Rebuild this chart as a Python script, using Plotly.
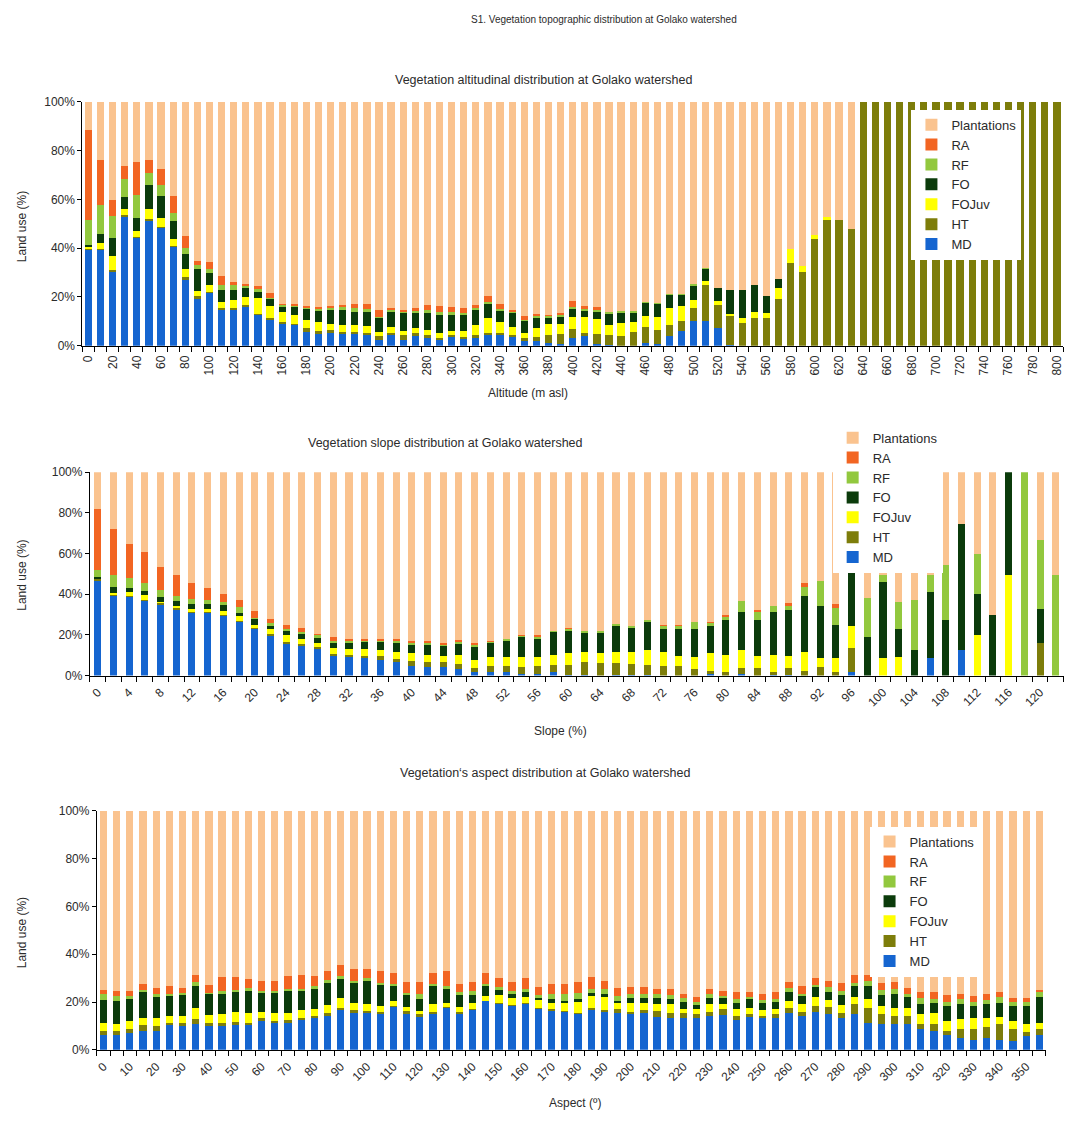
import plotly.graph_objects as go

# ---------------- DATA ----------------
series_names = ["MD", "HT", "FOJuv", "FO", "RF", "RA", "Plantations"]
series_colors = ["#1565D0", "#7D7D0A", "#FFFF00", "#0B3B0B", "#92C83E", "#F26522", "#FAC38F"]

# Altitude chart (m asl)
alt_x = list(range(0, 801, 10))
alt_MD = [39.5, 39.5, 30.5, 53.2, 44.4, 51.5, 48.5, 40.7, 27.4, 19.6, 21.8, 14.6, 14.6, 15.7, 12.8, 10.9, 9.1, 8.8, 5.5, 4.7,
          5.4, 5.1, 5.1, 4.5, 2.4, 4.5, 2.4, 3.8, 3.1, 2.2, 3.4, 2.8, 3.1, 4.5, 4.5, 3.4, 2.0, 2.0, 1.0, 0.7,
          3.1, 3.8, 0.7, 0.4, 0, 0, 1.1, 0.7, 3.8, 6.1, 10.1, 10.1, 7.4, 0.4, 0, 0, 0, 0, 0, 0,
          0, 0, 0, 0, 0, 0, 0, 0, 0, 0, 0, 0, 0, 0, 0, 0, 0, 0, 0, 0, 0]
alt_HT = [0.5, 0.3, 0.5, 0.3, 0.3, 0.3, 0.3, 0.2, 0.8, 0.8, 0.3, 0.9, 0.9, 0.9, 0.2, 0.5, 0.5, 0.3, 1.6, 1.4,
          1.1, 0.7, 0.7, 0.7, 1.4, 0.7, 1.8, 1.4, 1.1, 0.9, 1.1, 0.9, 1.4, 0.9, 0.7, 1.1, 1.1, 1.4, 3.5, 4.1,
          3.6, 1.4, 4.1, 3.8, 3.8, 5.5, 6.4, 5.8, 4.7, 4.1, 5.4, 14.6, 9.5, 12.2, 9.2, 11.5, 11.5, 19.3, 33.9, 30.4,
          43.6, 51.4, 51.4, 47.7, 100, 100, 100, 100, 100, 100, 100, 100, 100, 100, 100, 100, 100, 100, 100, 100, 100]
alt_FOJuv = [0.3, 2.2, 5.8, 2.6, 2.3, 4.3, 3.6, 3.0, 3.1, 1.9, 2.7, 2.4, 3.1, 3.4, 6.4, 4.9, 4.3, 3.5, 3.4, 3.5,
             2.3, 2.7, 2.7, 2.7, 1.8, 2.3, 1.9, 2.0, 2.3, 2.0, 1.6, 2.3, 3.8, 6.1, 4.5, 3.0, 2.3, 3.8, 4.3, 4.1,
             5.1, 6.4, 6.2, 4.3, 5.4, 4.1, 4.5, 5.4, 6.8, 6.2, 3.1, 2.0, 1.4, 0.5, 2.3, 2.4, 1.8, 4.5, 5.7, 2.4,
             1.8, 1.3, 0, 0, 0, 0, 0, 0, 0, 0, 0, 0, 0, 0, 0, 0, 0, 0, 0, 0, 0]
alt_FO = [1.2, 3.9, 7.2, 4.9, 5.4, 9.6, 9.1, 7.4, 6.5, 9.2, 5.0, 5.0, 4.3, 3.6, 2.7, 3.0, 2.4, 3.4, 4.7, 5.0,
          5.8, 6.1, 5.4, 5.8, 5.9, 6.5, 7.2, 6.1, 7.4, 7.7, 6.8, 6.5, 6.8, 5.8, 4.7, 5.8, 4.9, 4.3, 3.0, 2.7,
          3.1, 3.1, 3.0, 4.7, 4.7, 4.3, 5.7, 5.4, 5.7, 4.6, 6.1, 5.1, 5.4, 9.9, 11.5, 10.8, 7.2, 3.4, 0, 0,
          0, 0, 0, 0, 0, 0, 0, 0, 0, 0, 0, 0, 0, 0, 0, 0, 0, 0, 0, 0, 0]
alt_RF = [10.0, 11.9, 9.3, 7.3, 9.5, 5.0, 4.2, 3.1, 2.3, 1.6, 1.7, 2.0, 1.8, 1.1, 1.6, 0.4, 0.5, 0.6, 0.7, 0.7,
          1.1, 1.4, 1.4, 1.4, 0.4, 0.9, 0.9, 1.4, 0.7, 1.1, 0.8, 1.1, 0.7, 0.7, 0.5, 0.9, 0.3, 0.8, 0.7, 1.4,
          1.0, 0.7, 0.7, 0.7, 0.3, 0.3, 0.4, 0.3, 0.4, 0.3, 0.7, 0.2, 0, 0, 0, 0, 0, 0, 0, 0,
          0, 0, 0, 0, 0, 0, 0, 0, 0, 0, 0, 0, 0, 0, 0, 0, 0, 0, 0, 0, 0]
alt_RA = [37.0, 18.2, 6.5, 5.4, 13.5, 5.4, 6.8, 7.0, 5.0, 1.8, 3.0, 3.8, 1.3, 0.7, 0.6, 2.0, 0.4, 0.4, 0.4, 0.4,
          0.5, 0.9, 2.0, 1.9, 2.7, 0.4, 0.4, 0.7, 2.3, 2.4, 2.0, 1.9, 0.7, 2.4, 2.4, 0.4, 1.4, 0.9, 0.3, 0.3,
          2.3, 0.7, 1.3, 0, 0, 0, 0, 0, 0, 0, 0, 0, 0, 0, 0, 0, 0, 0, 0, 0,
          0, 0, 0, 0, 0, 0, 0, 0, 0, 0, 0, 0, 0, 0, 0, 0, 0, 0, 0, 0, 0]
alt_Plantations = [11.5, 24.0, 40.2, 26.3, 24.6, 23.9, 27.5, 38.6, 54.9, 65.1, 65.5, 71.3, 74.0, 74.6, 75.7, 78.3, 82.8, 83.0, 83.7, 84.3,
                   83.8, 83.1, 82.7, 83.0, 85.4, 84.7, 85.4, 84.6, 83.1, 83.7, 84.3, 84.5, 83.5, 79.6, 82.7, 85.4, 88.0, 86.8, 87.2, 86.7,
                   81.8, 83.9, 84.0, 86.1, 85.8, 85.8, 81.9, 82.4, 78.6, 78.7, 74.6, 68.0, 76.3, 77.0, 77.0, 75.3, 79.5, 72.8, 60.4, 67.2,
                   54.6, 47.3, 48.6, 52.3, 0, 0, 0, 0, 0, 0, 0, 0, 0, 0, 0, 0, 0, 0, 0, 0, 0]
alt_tick_labels = ["0", "20", "40", "60", "80", "100", "120", "140", "160", "180", "200", "220", "240", "260",
                   "280", "300", "320", "340", "360", "380", "400", "420", "440", "460", "480", "500", "520",
                   "540", "560", "580", "600", "620", "640", "660", "680", "700", "720", "740", "760", "780", "800"]

# Slope chart (%)
slope_x = list(range(0, 123, 2))
slope_MD = [46.7, 39.4, 38.9, 36.8, 34.8, 32.4, 31.1, 31.1, 29.5, 26.4, 23.0, 19.4, 15.7, 14.3, 13.0, 9.7, 8.9, 8.4, 7.6, 6.8,
            4.5, 4.4, 4.1, 3.2, 1.9, 1.9, 1.6, 0.8, 0.8, 1.9, 0.3, 0.3, 0, 0.5, 0.5, 0.3, 0, 0, 0, 0.8,
            0, 0.8, 0, 0.5, 0.5, 0, 0, 0, 1.9, 0, 0, 0, 0, 8.4, 0, 12.6, 0, 0, 0, 0, 0, 0]
slope_HT = [0.8, 0.3, 0.3, 0.5, 1.1, 0.8, 0.3, 0.3, 0.3, 0.3, 0.5, 0.8, 0.8, 1.1, 0.8, 1.1, 1.1, 1.3, 2.1, 1.3,
            2.8, 2.1, 2.4, 2.4, 1.8, 2.6, 2.9, 3.2, 3.7, 3.4, 5.0, 6.5, 6.2, 5.5, 5.2, 4.9, 4.5, 4.5, 3.2, 1.6,
            1.6, 2.9, 3.7, 1.5, 3.2, 2.4, 4.1, 1.9, 11.5, 0, 0, 0, 0, 0, 0, 0, 0, 0, 0, 0, 16.2, 0]
slope_FOJuv = [0.3, 1.1, 2.1, 2.1, 0.5, 1.1, 1.5, 1.5, 2.1, 2.4, 1.6, 2.8, 3.2, 2.4, 2.4, 2.9, 2.9, 3.6, 2.9, 3.6,
               3.7, 3.6, 3.2, 4.5, 3.9, 4.4, 4.4, 4.9, 4.4, 4.9, 5.7, 4.9, 4.9, 5.7, 6.0, 7.5, 7.1, 4.9, 5.7, 8.6,
               8.6, 8.9, 5.7, 8.3, 5.7, 9.2, 4.4, 6.5, 10.9, 0, 8.4, 8.9, 0, 0, 0, 0, 19.9, 0, 49.4, 0, 0, 0]
slope_FO = [0.8, 2.9, 1.6, 2.3, 2.4, 2.4, 2.4, 2.4, 2.6, 1.9, 2.8, 1.6, 2.4, 2.8, 2.4, 2.4, 3.2, 3.2, 3.9, 4.5,
            4.4, 4.9, 4.9, 5.7, 6.5, 7.3, 8.1, 10.2, 8.9, 11.3, 11.2, 9.4, 9.7, 12.6, 11.5, 13.8, 11.5, 13.3, 13.8, 13.3,
            16.9, 18.6, 17.7, 21.1, 22.7, 27.7, 25.9, 16.7, 28.8, 19.1, 37.4, 13.8, 12.6, 32.9, 27.1, 61.9, 20.3, 30.0, 50.6, 0, 16.7, 0]
slope_RF = [3.2, 5.7, 5.2, 3.7, 3.2, 2.4, 2.4, 1.9, 1.6, 2.6, 0.5, 1.3, 0.8, 0.8, 1.6, 0.8, 0.8, 0.8, 0.8, 0.8,
            0.8, 1.3, 0.8, 0.8, 1.3, 0.5, 1.1, 0.6, 1.3, 0.6, 0.8, 0.8, 1.1, 1.1, 1.1, 0.6, 1.5, 1.6, 3.6, 1.9,
            2.1, 5.7, 4.5, 2.8, 2.3, 4.4, 12.3, 8.1, 3.0, 19.0, 3.6, 13.3, 24.6, 8.1, 27.2, 0, 19.4, 0, 0, 100, 33.5, 49.4]
slope_RA = [30.3, 22.7, 16.7, 15.1, 11.3, 10.2, 7.6, 6.0, 4.1, 3.6, 3.2, 2.1, 2.1, 2.1, 0.4, 2.0, 1.1, 0.8, 0.8, 1.1,
            0.6, 0.6, 0.8, 0.8, 0.6, 0.2, 0, 0.2, 0.6, 0, 0.3, 0, 0, 0, 0, 0, 0.3, 0.5, 0, 0.3,
            0.8, 0, 0.8, 0, 1.3, 1.6, 0, 2.1, 0, 0, 0, 0, 0, 0, 0, 0, 0, 0, 0, 0, 0, 0]
slope_Plantations = [17.9, 27.9, 35.2, 39.5, 46.7, 50.7, 54.7, 56.8, 59.8, 62.8, 68.4, 72.0, 75.0, 76.5, 79.4, 81.1, 82.0, 81.9, 81.9, 81.9,
                     83.2, 83.1, 83.8, 82.6, 84.0, 83.1, 81.9, 80.1, 80.3, 77.9, 76.7, 78.1, 78.1, 74.6, 75.7, 72.9, 75.1, 75.2, 73.7, 73.5,
                     70.0, 63.1, 67.6, 65.8, 64.3, 54.7, 53.3, 64.7, 43.9, 61.9, 50.6, 64.0, 62.8, 50.6, 45.7, 25.5, 40.4, 70.0, 0, 0, 33.6, 50.6]
slope_tick_labels = ["0", "4", "8", "12", "16", "20", "24", "28", "32", "36", "40", "44", "48", "52", "56", "60",
                     "64", "68", "72", "76", "80", "84", "88", "92", "96", "100", "104", "108", "112", "116", "120"]

# Aspect chart (degrees)
asp_x = list(range(0, 356, 5))
asp_MD = [6.3, 6.2, 6.9, 8.0, 8.0, 10.7, 9.8, 11.0, 10.1, 10.1, 10.5, 10.7, 12.4, 11.4, 11.4, 12.4, 13.2, 14.2, 16.9, 15.6,
          15.6, 15.2, 18.0, 15.2, 14.2, 15.3, 17.6, 15.2, 16.8, 20.4, 19.4, 18.6, 19.4, 17.2, 16.5, 16.0, 15.2, 16.9, 16.3, 15.6,
          14.9, 15.6, 13.8, 13.2, 13.2, 13.2, 14.2, 14.6, 12.4, 13.8, 13.2, 13.2, 15.6, 14.2, 16.0, 15.2, 13.5, 14.9, 11.2, 11.0,
          10.7, 11.0, 8.7, 8.0, 6.3, 5.0, 4.3, 5.0, 4.3, 3.9, 5.9, 6.3]
asp_HT = [1.7, 1.8, 1.8, 2.5, 1.8, 0.7, 1.4, 1.8, 1.0, 1.0, 1.2, 0.7, 0.8, 0.7, 1.0, 1.1, 1.0, 1.4, 0.7, 1.0,
          0.7, 0.8, 0.3, 1.1, 0.7, 0.5, 0.5, 0.8, 0.4, 0, 0.3, 0.3, 0.3, 0.4, 0.4, 0.4, 0.4, 0.8, 0.5, 1.4,
          1.1, 1.0, 2.5, 2.3, 2.3, 1.9, 1.8, 2.6, 1.8, 1.1, 1.0, 1.7, 1.8, 1.8, 2.3, 2.8, 2.1, 4.1, 6.2, 3.9,
          3.4, 3.2, 2.3, 3.0, 1.7, 3.7, 4.4, 4.4, 6.7, 4.8, 1.4, 2.3]
asp_FOJuv = [3.4, 3.0, 3.4, 3.0, 3.7, 2.8, 3.0, 4.8, 3.6, 3.9, 4.3, 4.1, 2.8, 3.2, 2.9, 3.0, 3.0, 3.0, 3.9, 2.9,
             3.0, 2.3, 2.1, 1.8, 1.4, 3.5, 1.6, 1.9, 2.5, 2.3, 3.4, 2.6, 2.5, 3.4, 2.8, 3.3, 4.5, 5.1, 5.2, 2.8,
             3.7, 2.8, 3.0, 3.7, 1.8, 1.8, 3.0, 2.1, 3.0, 2.8, 2.3, 2.1, 3.0, 3.0, 3.7, 2.9, 3.0, 3.2, 3.7, 3.4,
             3.4, 3.4, 3.9, 4.5, 4.1, 4.1, 4.8, 4.1, 2.8, 3.4, 3.7, 2.8]
asp_FO = [9.6, 9.4, 9.0, 11.0, 8.7, 8.3, 9.0, 9.0, 8.8, 8.3, 8.5, 9.0, 8.1, 8.8, 9.2, 8.0, 8.7, 9.4, 8.1, 8.8,
          9.6, 9.0, 6.2, 5.1, 4.8, 7.3, 6.2, 5.2, 3.4, 3.9, 2.3, 1.9, 2.1, 0.7, 1.4, 0.7, 1.0, 0.8, 1.5, 0.7,
          1.8, 2.2, 2.2, 2.2, 2.8, 2.3, 2.5, 2.2, 2.5, 3.4, 3.2, 3.2, 3.9, 3.4, 4.5, 3.4, 4.5, 4.4, 5.5, 4.8,
          5.8, 4.4, 4.4, 4.1, 6.2, 6.5, 4.8, 5.5, 5.9, 6.2, 7.3, 10.7]
asp_RF = [2.3, 2.1, 1.4, 0.7, 1.0, 1.0, 0.7, 1.7, 0.4, 1.4, 0.7, 1.4, 0.7, 0.7, 1.0, 1.1, 0.7, 1.1, 1.1, 0.7,
          1.1, 0.7, 1.0, 0.7, 2.1, 1.0, 0.7, 1.0, 1.4, 1.0, 0.8, 1.1, 1.0, 1.4, 2.1, 2.8, 2.8, 1.9, 2.1, 2.1,
          1.9, 1.7, 1.7, 1.7, 1.7, 0.8, 1.7, 1.2, 1.4, 1.0, 1.0, 1.2, 1.7, 1.0, 0.7, 1.9, 1.4, 1.4, 2.1, 2.1,
          2.1, 1.4, 2.2, 1.8, 1.8, 1.8, 1.8, 1.7, 2.3, 1.8, 1.8, 2.1]
asp_RA = [1.8, 2.1, 2.3, 2.5, 2.8, 3.2, 2.1, 3.2, 3.2, 5.8, 5.1, 3.9, 4.1, 4.1, 5.2, 5.8, 4.1, 3.7, 4.8, 5.0,
          3.9, 4.8, 4.5, 4.4, 5.1, 4.5, 6.2, 3.4, 3.7, 4.5, 4.0, 4.1, 4.8, 3.4, 4.4, 4.5, 4.5, 4.8, 3.3, 3.4,
          2.8, 3.0, 2.3, 2.3, 1.7, 2.3, 2.1, 1.8, 3.0, 2.2, 2.5, 2.9, 2.5, 3.2, 3.0, 2.8, 3.4, 3.4, 2.8, 2.8,
          2.9, 2.5, 2.6, 2.6, 2.8, 2.3, 2.3, 2.5, 2.2, 1.7, 1.7, 1.0]
asp_Plantations = [74.9, 75.4, 75.2, 72.3, 74.0, 73.3, 74.0, 68.5, 72.9, 69.5, 69.7, 70.2, 71.1, 71.1, 69.3, 68.6, 69.3, 67.2, 64.5, 66.0,
                   66.1, 67.2, 67.9, 71.7, 71.7, 67.9, 67.2, 72.5, 71.8, 67.9, 69.8, 71.4, 69.9, 73.5, 72.4, 72.3, 71.6, 69.7, 71.1, 74.0,
                   73.8, 73.7, 74.5, 74.6, 76.5, 77.7, 74.7, 75.5, 75.9, 75.7, 76.8, 75.7, 71.5, 73.4, 69.8, 71.0, 72.1, 68.6, 68.5, 72.0,
                   71.7, 74.1, 75.9, 76.0, 77.1, 76.6, 77.6, 76.8, 75.8, 78.2, 78.2, 74.8]
asp_tick_labels = ["0", "10", "20", "30", "40", "50", "60", "70", "80", "90", "100", "110", "120", "130", "140",
                   "150", "160", "170", "180", "190", "200", "210", "220", "230", "240", "250", "260", "270",
                   "280", "290", "300", "310", "320", "330", "340", "350"]

y_tick_values = [0, 20, 40, 60, 80, 100]
y_tick_labels = ["0%", "20%", "40%", "60%", "80%", "100%"]

# ---------------- FIGURE ----------------
W, H = 1067, 1124
FONT = "Liberation Sans, Arial, sans-serif"
TXT = "#2b2b2b"

fig = go.Figure()

charts = [
    dict(x=alt_x, data=[alt_MD, alt_HT, alt_FOJuv, alt_FO, alt_RF, alt_RA, alt_Plantations],
         xa="x", ya="y", lg="legend", width=6.0),
    dict(x=slope_x, data=[slope_MD, slope_HT, slope_FOJuv, slope_FO, slope_RF, slope_RA, slope_Plantations],
         xa="x2", ya="y2", lg="legend2", width=0.9),
    dict(x=asp_x, data=[asp_MD, asp_HT, asp_FOJuv, asp_FO, asp_RF, asp_RA, asp_Plantations],
         xa="x3", ya="y3", lg="legend3", width=2.75),
]

for ch in charts:
    for name, col, vals in zip(series_names, series_colors, ch["data"]):
        fig.add_trace(go.Bar(
            x=ch["x"], y=vals, name=name, marker=dict(color=col, line=dict(width=0)),
            width=ch["width"], xaxis=ch["xa"], yaxis=ch["ya"], legend=ch["lg"], showlegend=True,
        ))


def px_x(p):
    return p / W


def px_y(p):
    return 1 - p / H


def xaxis_cfg(domain, rng, tickvals, ticktext, angle, minor0, minordt, anchor):
    return dict(
        domain=domain, range=rng, type="linear", tickmode="array", tickvals=tickvals, ticktext=ticktext,
        tickangle=angle, ticks="", showline=True, linecolor="black", linewidth=1, showgrid=False,
        zeroline=False, tickfont=dict(size=12, color=TXT, family=FONT), ticklabelstandoff=4, anchor=anchor,
        minor=dict(ticks="outside", tickmode="linear", tick0=minor0, dtick=minordt, ticklen=5,
                   tickcolor="black", tickwidth=1, showgrid=False),
    )


def yaxis_cfg(domain, anchor):
    return dict(
        domain=domain, range=[0, 100], tickmode="array", tickvals=y_tick_values, ticktext=y_tick_labels,
        ticks="outside", ticklen=4, tickcolor="black", showline=True, linecolor="black",
        linewidth=1, showgrid=False, zeroline=False, anchor=anchor,
        tickfont=dict(size=12, color=TXT, family=FONT),
    )


alt_vals = [int(t) for t in alt_tick_labels]
slope_vals = [int(t) for t in slope_tick_labels]
asp_vals = [int(t) for t in asp_tick_labels]

legend_common = dict(bgcolor="white", borderwidth=0, traceorder="reversed",
                     font=dict(size=13, color=TXT, family=FONT), xanchor="left", yanchor="top",
                     tracegroupgap=0, itemwidth=30)

fig.update_layout(
    width=W, height=H, margin=dict(l=0, r=0, t=0, b=0),
    paper_bgcolor="white", plot_bgcolor="white", barmode="stack",
    font=dict(family=FONT, color=TXT),
    xaxis=xaxis_cfg([px_x(80.6), px_x(1064)], [-5, 805], alt_vals, alt_tick_labels, -90, 5, 10, "y"),
    yaxis=yaxis_cfg([px_y(343), px_y(96)], "x"),
    xaxis2=xaxis_cfg([px_x(88.1), px_x(1064.6)], [-1, 123], slope_vals, slope_tick_labels, -45, 1, 2, "y2"),
    yaxis2=yaxis_cfg([px_y(677), px_y(471)], "x2"),
    xaxis3=xaxis_cfg([px_x(95.1), px_x(1046.9)], [-2.5, 357.5], asp_vals, asp_tick_labels, -45, 2.5, 5, "y3"),
    yaxis3=yaxis_cfg([px_y(1056), px_y(814)], "x3"),
    legend=dict(x=px_x(912), y=px_y(104), **legend_common),
    legend2=dict(x=px_x(833), y=px_y(421), **legend_common),
    legend3=dict(x=px_x(870), y=px_y(830), **legend_common),
)


def ann(text, x, y, size, angle=0):
    fig.add_annotation(text=text, x=px_x(x), y=px_y(y), xref="paper", yref="paper",
                       showarrow=False, textangle=angle, xanchor="center", yanchor="middle",
                       font=dict(size=size, color=TXT, family=FONT))


ann("S1. Vegetation topographic distribution at Golako watershed", 604, 13, 10)
ann("Vegetation altitudinal distribution at Golako watershed", 543, 74, 12.5)
ann("Vegetation slope distribution at Golako watershed", 445, 441, 12.5)
ann("Vegetation‘s aspect distribution at Golako watershed", 545, 776, 12.5)
ann("Land use (%)", 20, 222, 12, -90)
ann("Land use (%)", 20, 575, 12, -90)
ann("Land use (%)", 20, 937, 12, -90)
ann("Altitude (m asl)", 527, 391, 12)
ann("Slope (%)", 560, 733, 12)
ann("Aspect (º)", 575, 1110, 12)

fig.write_html("out.html")
